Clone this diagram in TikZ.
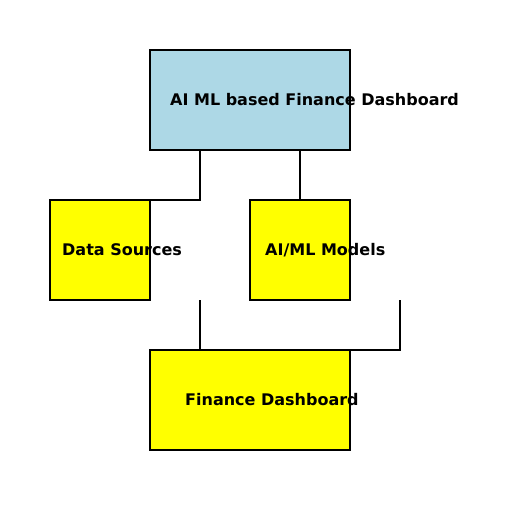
\documentclass[tikz,border=0pt]{standalone}
\usepackage{fontspec}
\setmainfont{DejaVu Sans}
\definecolor{boxblue}{HTML}{ADD8E6}
\definecolor{boxyellow}{HTML}{FFFF00}
\begin{document}
\begin{tikzpicture}[x=1pt,y=-1pt,
  box/.style={draw=black,line width=1.3pt,inner sep=0pt,outer sep=0pt},
  lbl/.style={anchor=base west,inner sep=0pt,font=\fontsize{16}{19}\selectfont\bfseries},
  conn/.style={draw=black,line width=1.3pt}]
\useasboundingbox (0,0) rectangle (512,512);
\node[box,fill=boxblue,minimum width=200pt,minimum height=100pt] (ai) at (250,100) {};
\node[box,fill=boxyellow,minimum width=100pt,minimum height=100pt] (ds) at (100,250) {};
\node[box,fill=boxyellow,minimum width=100pt,minimum height=100pt] (ml) at (300,250) {};
\node[box,fill=boxyellow,minimum width=200pt,minimum height=100pt] (fd) at (250,400) {};
\node[lbl] (aiL) at (170,105.8) {AI ML based Finance Dashboard};
\node[lbl] (dsL) at (62,255.8) {Data Sources};
\node[lbl] (mlL) at (265,255.8) {AI/ML Models};
\node[lbl] (fdL) at (185,405.8) {Finance Dashboard};
\coordinate (c1) at (200,300);
\coordinate (c2) at (400,300);
\draw[conn] ([xshift=-50pt]ai.south) |- (ds.north east);
\draw[conn] ([xshift=50pt]ai.south) -- (ml.north);
\draw[conn] (c1) -- ([xshift=50pt]fd.north west);
\draw[conn] (c2) |- (fd.north east);
\end{tikzpicture}
\end{document}
